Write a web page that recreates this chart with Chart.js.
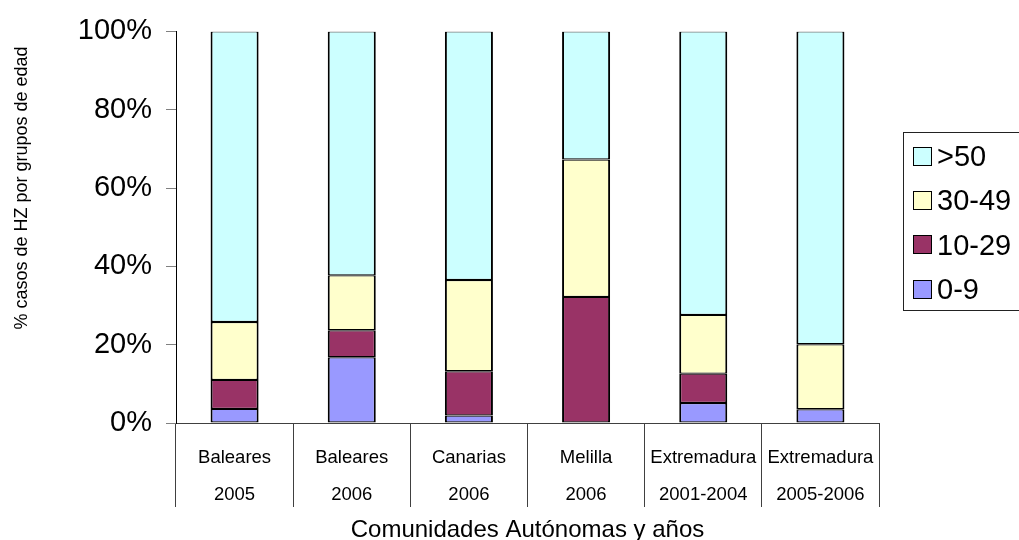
<!DOCTYPE html>
<html>
<head>
<meta charset="utf-8">
<script src="https://cdn.jsdelivr.net/npm/chart.js@4/dist/chart.umd.min.js"></script>
<style>
  body { margin: 0; background: #fff; }
  #wrap { position: relative; width: 1019px; height: 540px; overflow: hidden; }
  #legend {
    position: absolute; left: 903px; top: 132px; width: 170px; height: 179px;
    border: 1px solid #222; box-sizing: border-box;
    font-family: "Liberation Sans", Arial, sans-serif; font-size: 29px; color: #000;
  }
  .item { position: absolute; left: 9px; height: 34px; line-height: 34px; white-space: nowrap; }
  .sw { display: inline-block; width: 17px; height: 17px; border: 1.5px solid #000; vertical-align: middle; margin-right: 5px; position: relative; top: -2px; }
</style>
</head>
<body>
<div id="wrap">
  <canvas id="chart" width="1019" height="540"></canvas>
  <div id="legend"></div>
</div>
<script>
// categorías (dos niveles) y porcentajes por grupo de edad
const regions = ['Baleares', 'Baleares', 'Canarias', 'Melilla', 'Extremadura', 'Extremadura'];
const years = ['2005', '2006', '2006', '2006', '2001-2004', '2005-2006'];
const seriesNames = ['0-9', '10-29', '30-49', '>50'];
const age0to9 = [3.6, 16.8, 1.9, 0, 5.1, 3.5];
const age10to29 = [7.4, 6.9, 11.3, 32.2, 7.5, 0];
const age30to49 = [14.8, 14.0, 23.3, 35.1, 15.0, 16.6];
const age50plus = [74.2, 62.3, 63.5, 32.7, 72.4, 79.9];
const yTicks = [0, 20, 40, 60, 80, 100];

const colors = ['#9999FF', '#993366', '#FFFFCC', '#CCFFFF'];
const values = [age0to9, age10to29, age30to49, age50plus];
const font = '"Liberation Sans", Arial, sans-serif';

const datasets = seriesNames.map((name, i) => ({
  label: name,
  data: values[i],
  backgroundColor: colors[i],
  borderColor: '#000',
  borderWidth: { top: 1.2, bottom: 1.2, left: 2, right: 2 },
  borderSkipped: false,
  barPercentage: 0.41,
  categoryPercentage: 1,
}));

// titulo del eje Y, dibujado a mano para poder colocarlo igual que el original
const yTitle = {
  id: 'yTitle',
  afterDraw(chart) {
    const ctx = chart.ctx;
    ctx.save();
    ctx.translate(22, 188);
    ctx.rotate(-Math.PI / 2);
    ctx.font = '18px ' + font;
    ctx.fillStyle = '#000';
    ctx.textAlign = 'center';
    ctx.textBaseline = 'middle';
    ctx.fillText('% casos de HZ por grupos de edad', 0, 0);
    ctx.restore();
  }
};

new Chart(document.getElementById('chart'), {
  type: 'bar',
  data: {
    labels: regions.map((r, i) => [r, years[i]]),
    datasets: datasets,
  },
  options: {
    responsive: false,
    animation: false,
    devicePixelRatio: 1,
    layout: { padding: { top: 28, right: 140, left: 0, bottom: 0 } },
    plugins: {
      legend: { display: false },
      tooltip: { enabled: false },
    },
    scales: {
      x: {
        stacked: true,
        offset: true,
        afterFit: (scale) => { scale.height = 117; },
        border: { color: '#404040', width: 1 },
        grid: { offset: true, drawOnChartArea: false, tickLength: 84, color: '#404040' },
        ticks: {
          autoSkip: false, maxRotation: 0, padding: -67.5,
          color: '#000', font: { family: font, size: 18.5, lineHeight: 2 },
        },
        title: {
          display: true, text: 'Comunidades Autónomas y años', color: '#000',
          font: { family: font, size: 24, lineHeight: 1 }, padding: { top: 0, bottom: -2 },
        },
      },
      y: {
        stacked: true,
        min: 0,
        max: 100,
        afterFit: (scale) => { scale.width = 176; },
        afterBuildTicks: (scale) => { scale.ticks = yTicks.map(v => ({ value: v })); },
        border: { color: '#000', width: 1 },
        grid: { drawOnChartArea: false, tickLength: 10, color: '#808080' },
        ticks: {
          padding: 14, color: '#000', font: { family: font, size: 29 },
          callback: (v) => v + '%',
        },
      },
    },
  },
  plugins: [yTitle],
});

// leyenda en HTML, en orden inverso como en el original
const legend = document.getElementById('legend');
[3, 2, 1, 0].forEach((i, k) => {
  const el = document.createElement('div');
  el.className = 'item';
  el.style.top = (6 + k * 44.3) + 'px';
  el.innerHTML = '<span class="sw" style="background:' + colors[i] + '"></span>' + seriesNames[i];
  legend.appendChild(el);
});
</script>
</body>
</html>
